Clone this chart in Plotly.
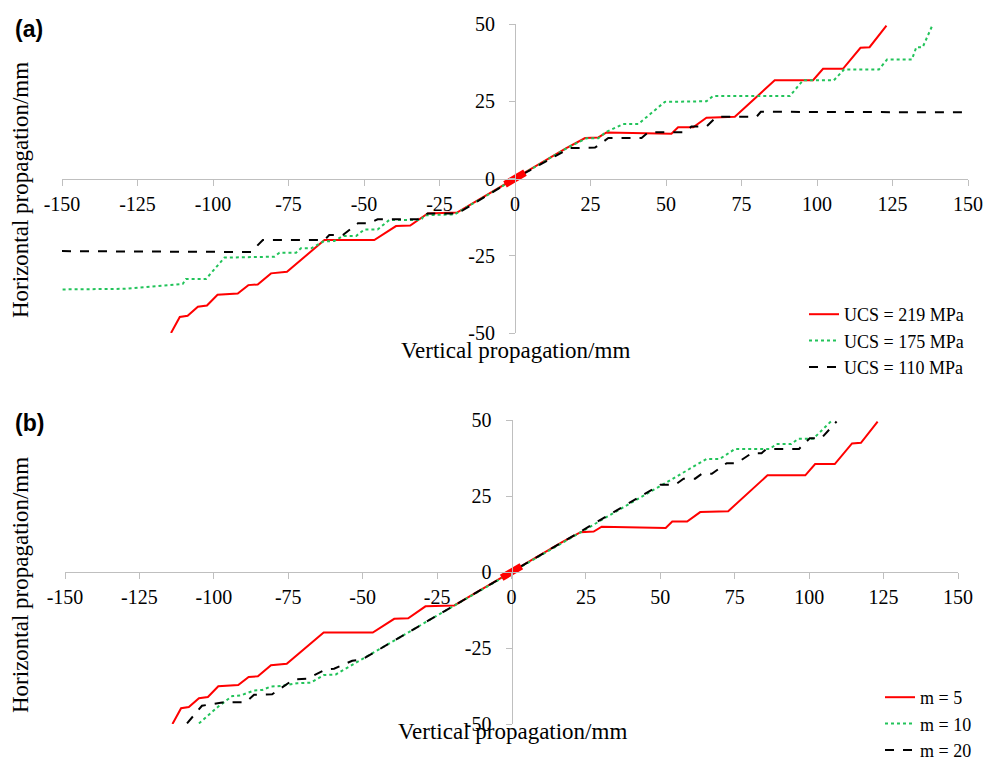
import plotly.graph_objects as go

# ---------------- data ----------------
tick_x = [-150, -125, -100, -75, -50, -25, 0, 25, 50, 75, 100, 125, 150]
tick_x_text = ["-150", "-125", "-100", "-75", "-50", "-25", "0", "25", "50", "75", "100", "125", "150"]
tick_y = [-50, -25, 0, 25, 50]
tick_y_text = ["-50", "-25", "0", "25", "50"]

# panel (a)
ucs219_x = [-113.9, -111.0, -108.4, -105.0, -102.0, -98.5, -91.8, -88.3, -85.2, -80.8, -75.5, -63.1, -46.6,
            -39.4, -34.7, -28.9, -19.2, 0, 17.0, 23.2, 27.6, 30.3, 51.8, 54.0, 59.0, 63.4, 72.8, 86.0, 98.7,
            102.0, 108.6, 114.4, 117.4, 123.0]
ucs219_y = [-50.0, -44.8, -44.4, -41.5, -41.1, -37.6, -37.2, -34.5, -34.3, -30.7, -30.2, -19.9, -19.9,
            -15.4, -15.2, -11.3, -11.0, 0, 9.85, 13.1, 13.3, 14.9, 14.5, 16.6, 16.6, 19.7, 20.0, 31.8, 31.8,
            35.5, 35.5, 42.3, 42.5, 49.5]

ucs175_x = [-149.8, -129.4, -110.0, -109.0, -102.3, -96.2, -79.7, -78.0, -72.5, -70.9, -67.5, -63.5, -59.8,
            -57.0, -52.6, -49.9, -45.5, -41.6, -31.1, -30.0, -20.0, 0, 18.0, 23.7, 27.6, 30.0, 35.8, 40.8,
            49.6, 63.4, 65.6, 91.0, 95.4, 105.6, 109.0, 120.5, 123.2, 131.4, 132.9, 135.0, 138.4]
ucs175_y = [-35.9, -35.7, -34.1, -32.5, -32.5, -25.6, -25.3, -24.0, -24.0, -22.6, -22.6, -20.4, -20.2,
            -18.6, -18.6, -16.5, -16.5, -13.4, -13.4, -11.9, -11.6, 0, 10.3, 13.0, 13.0, 15.0, 17.6, 17.6,
            24.8, 25.0, 26.7, 26.7, 31.8, 31.8, 35.3, 35.3, 38.5, 38.5, 42.5, 42.5, 50.0]

ucs110_x = [-150.0, -87.4, -83.5, -63.1, -61.5, -57.0, -52.0, -48.2, -45.5, -32.2, -28.9, -19.0, 0, 18.2,
            26.5, 30.9, 41.9, 44.1, 56.2, 58.4, 63.4, 66.7, 80.0, 81.4, 150.0]
ucs110_y = [-23.5, -23.8, -19.9, -19.9, -18.3, -18.3, -14.5, -14.5, -13.2, -13.2, -11.3, -11.3, 0, 9.85,
            10.0, 13.1, 13.1, 15.0, 15.0, 16.8, 16.8, 20.0, 20.0, 21.6, 21.4]

# panel (b)
m5_x = ucs219_x
m5_y = ucs219_y

m10_x = [-105.0, -98.3, -93.8, -91.0, -86.5, -83.7, -81.0, -77.6, -72.0, -67.5, -63.0, -59.0, -51.8, 0,
         50.0, 65.6, 70.0, 75.1, 86.8, 89.0, 94.0, 96.3, 101.3, 107.5]
m10_y = [-49.8, -44.1, -40.8, -40.6, -39.0, -38.8, -37.7, -37.5, -36.6, -36.4, -33.9, -33.7, -29.6, 0,
         28.4, 37.2, 37.2, 40.5, 40.5, 42.1, 42.1, 43.8, 43.8, 49.7]

m20_x = [-109.0, -104.0, -97.2, -89.3, -86.5, -80.4, -73.1, -68.6, -62.4, -59.6, -53.5, -50.1, 0, 50.0,
         55.0, 57.8, 61.7, 63.9, 67.3, 72.3, 75.6, 80.7, 84.0, 85.7, 96.6, 100.2, 104.1, 109.2]
m20_y = [-49.8, -44.0, -42.9, -42.8, -40.4, -40.2, -35.3, -35.1, -32.0, -31.8, -29.2, -28.7, 0, 28.7,
         28.7, 30.7, 30.7, 32.3, 32.3, 35.8, 35.8, 39.1, 39.1, 40.5, 40.5, 44.0, 44.0, 49.5]

# initial fracture (thick red segment)
seed_x = [-3.3, 3.3]
seed_y = [-1.9, 1.9]

names_a = ["UCS = 219 MPa", "UCS = 175 MPa", "UCS = 110 MPa"]
names_b = ["m = 5", "m = 10", "m = 20"]

# ---------------- styles ----------------
RED = "#ff0000"
GREEN = "#22c35a"
BLACK = "#000000"
AXC = "#bfbfbf"
SERIF = "Liberation Serif"

fig = go.Figure()

series_a = [(ucs219_x, ucs219_y, RED, "solid"), (ucs175_x, ucs175_y, GREEN, "dot"), (ucs110_x, ucs110_y, BLACK, "dash")]
series_b = [(m5_x, m5_y, RED, "solid"), (m10_x, m10_y, GREEN, "dot"), (m20_x, m20_y, BLACK, "dash")]

for (x, y, c, d), n in zip(series_a, names_a):
    fig.add_trace(go.Scatter(x=x, y=y, mode="lines", name=n, line=dict(color=c, width=2, dash=d),
                             xaxis="x", yaxis="y", legend="legend"))
fig.add_trace(go.Scatter(x=seed_x, y=seed_y, mode="lines", line=dict(color=RED, width=7),
                         showlegend=False, xaxis="x", yaxis="y"))

for (x, y, c, d), n in zip(series_b, names_b):
    fig.add_trace(go.Scatter(x=x, y=y, mode="lines", name=n, line=dict(color=c, width=2, dash=d),
                             xaxis="x2", yaxis="y2", legend="legend2"))
fig.add_trace(go.Scatter(x=seed_x, y=seed_y, mode="lines", line=dict(color=RED, width=7),
                         showlegend=False, xaxis="x2", yaxis="y2"))

# body margin is removed by the post script, so the figure fills the 985x760 window
W, H = 985, 760


def px(v):
    return v / W


def py(v):
    return 1 - v / H


common_x = dict(range=[-150, 150], tickvals=tick_x, ticktext=tick_x_text, showline=True, linecolor=AXC,
                linewidth=1, ticks="outside", ticklen=6, tickcolor=AXC, showgrid=False, zeroline=False,
                tickfont=dict(family=SERIF, size=20, color="black"), anchor="free", ticklabelstandoff=1,
                automargin=False)
common_y = dict(range=[-50, 50], tickvals=tick_y, ticktext=tick_y_text, showline=True, linecolor=AXC,
                linewidth=1, ticks="outside", ticklen=6, tickcolor=AXC, showgrid=False, zeroline=False,
                tickfont=dict(family=SERIF, size=20, color="black"), anchor="free", ticklabelstandoff=10,
                automargin=False)

xa_dom = [px(62), px(968)]
ya_dom = [py(333), py(24)]
xb_dom = [px(65), px(958)]
yb_dom = [py(724), py(420)]

fig.update_layout(
    width=W, height=H,
    margin=dict(l=0, r=0, t=0, b=0, autoexpand=False),
    paper_bgcolor="white", plot_bgcolor="white",
    font=dict(family=SERIF, size=18, color="black"),
    xaxis=dict(domain=xa_dom, position=sum(ya_dom) / 2, **common_x),
    yaxis=dict(domain=ya_dom, position=sum(xa_dom) / 2, **common_y),
    xaxis2=dict(domain=xb_dom, position=sum(yb_dom) / 2, **common_x),
    yaxis2=dict(domain=yb_dom, position=sum(xb_dom) / 2, **common_y),
    legend=dict(x=px(804), y=py(296), xanchor="left", yanchor="top", bgcolor="rgba(0,0,0,0)",
                font=dict(family=SERIF, size=18, color="black")),
    legend2=dict(x=px(880), y=py(679), xanchor="left", yanchor="top", bgcolor="rgba(0,0,0,0)",
                 font=dict(family=SERIF, size=18, color="black")),
    showlegend=True,
)


def note(text, x, y, size, family=SERIF, angle=0):
    return dict(text=text, x=px(x), y=py(y), xref="paper", yref="paper", showarrow=False,
                xanchor="center", yanchor="middle", textangle=angle,
                font=dict(family=family, size=size, color="black"))


ann = [
    note("<b>(a)</b>", 29, 29, 23, "Liberation Sans"),
    note("<b>(b)</b>", 29, 423, 23, "Liberation Sans"),
    note("Vertical propagation/mm", 515, 351, 23),
    note("Vertical propagation/mm", 512, 731, 23),
    note("Horizontal propagation/mm", 20, 190, 23, angle=-90),
    note("Horizontal propagation/mm", 20, 585, 23, angle=-90),
]
fig.update_layout(annotations=ann)

fig.write_html("out.html", config={"displayModeBar": False},
               post_script="document.body.style.margin='0';document.body.style.overflow='hidden';")
